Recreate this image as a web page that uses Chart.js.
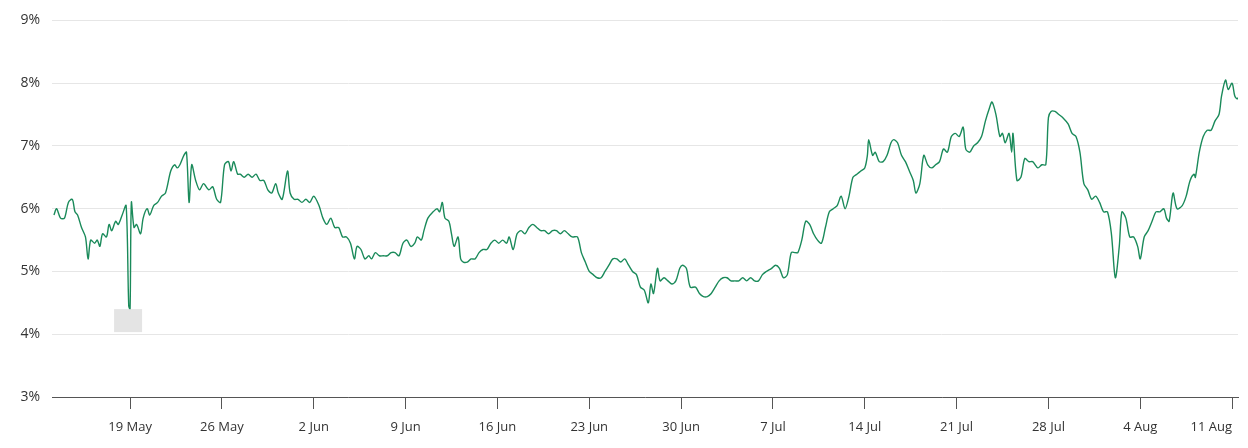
<!DOCTYPE html>
<html><head><meta charset="utf-8">
<script src="https://cdn.jsdelivr.net/npm/chart.js@4"></script>
<style>html,body{margin:0;padding:0;background:#fff}#w{width:1248px;height:448px}</style>
</head><body><div id="w"><canvas id="c"></canvas></div>
<script>
// days since 19 May
const days = [-5.8,-5.6,-5.3,-5.0,-4.7,-4.4,-4.2,-4.0,-3.7,-3.4,-3.2,-3.0,-2.7,-2.5,-2.3,-2.1,-1.8,-1.6,-1.4,-1.1,-0.9,-0.6,-0.3,-0.1,0,0.1,0.3,0.5,0.8,1.0,1.3,1.5,1.8,2.1,2.4,2.7,3.1,3.4,3.6,3.8,4.1,4.3,4.5,4.7,5.0,5.3,5.6,6.0,6.3,6.6,6.9,7.2,7.5,7.7,7.9,8.2,8.4,8.7,9.0,9.3,9.6,9.9,10.2,10.5,10.8,11.1,11.3,11.6,12.0,12.2,12.5,12.8,13.1,13.4,13.7,14.0,14.4,14.7,15.0,15.3,15.6,15.9,16.2,16.5,16.8,17.1,17.3,17.6,17.9,18.2,18.4,18.7,19.0,19.3,19.6,19.9,20.2,20.5,20.8,21.1,21.4,21.7,21.9,22.2,22.4,22.7,23.1,23.4,23.6,23.8,24.0,24.3,24.5,24.7,25.0,25.2,25.4,25.7,26.0,26.3,26.6,26.9,27.2,27.5,27.8,28.1,28.4,28.7,28.9,29.2,29.5,29.8,30.1,30.4,30.7,31.0,31.3,31.6,31.9,32.2,32.5,32.8,33.1,33.4,33.7,34.1,34.4,34.7,35.0,35.3,35.6,35.9,36.2,36.5,36.8,37.1,37.4,37.7,38.0,38.3,38.6,38.9,39.2,39.5,39.7,39.9,40.2,40.4,40.7,41.0,41.3,41.6,41.9,42.1,42.4,42.7,43.1,43.4,43.7,44.0,44.3,44.6,44.9,45.2,45.5,45.8,46.1,46.4,46.7,47.0,47.3,47.6,47.9,48.2,48.5,48.9,49.2,49.5,49.8,50.1,50.4,50.7,50.9,51.2,51.5,51.8,52.1,52.4,52.7,53.0,53.3,53.6,53.9,54.2,54.5,54.8,55.1,55.4,55.7,56.0,56.2,56.3,56.6,56.8,57.1,57.4,57.7,58.0,58.2,58.5,58.8,59.1,59.4,59.7,59.9,60.2,60.5,60.8,61.1,61.4,61.7,62.0,62.3,62.6,62.9,63.2,63.5,63.7,64.0,64.3,64.6,64.9,65.2,65.5,65.7,66.0,66.3,66.5,66.7,67.0,67.2,67.3,67.6,67.9,68.2,68.5,68.8,69.2,69.5,69.8,70.0,70.2,70.5,70.8,71.1,71.5,71.8,72.1,72.4,72.7,73.0,73.3,73.6,73.9,74.2,74.5,74.8,75.1,75.4,75.6,75.9,76.2,76.5,76.8,77.0,77.3,77.6,77.9,78.2,78.5,78.8,79.0,79.2,79.5,79.8,80.2,80.5,80.8,81.1,81.2,81.5,81.8,82.1,82.4,82.7,83.0,83.2,83.5,83.7,84.0,84.2,84.4,84.7,84.8];
const rates = [5.9,6.0,5.85,5.85,6.1,6.15,5.95,5.9,5.7,5.55,5.2,5.5,5.45,5.5,5.4,5.6,5.55,5.75,5.65,5.8,5.75,5.9,6.05,4.45,4.4,6.1,5.7,5.75,5.6,5.85,6.0,5.9,6.05,6.1,6.2,6.25,6.6,6.7,6.65,6.7,6.85,6.9,6.1,6.7,6.45,6.3,6.4,6.3,6.35,6.15,6.1,6.7,6.75,6.6,6.75,6.55,6.55,6.5,6.55,6.5,6.55,6.45,6.45,6.3,6.25,6.4,6.25,6.15,6.6,6.25,6.15,6.15,6.1,6.15,6.1,6.2,6.05,5.85,5.75,5.85,5.7,5.7,5.55,5.55,5.45,5.2,5.4,5.35,5.2,5.25,5.2,5.3,5.25,5.25,5.25,5.3,5.3,5.25,5.45,5.5,5.4,5.45,5.55,5.5,5.65,5.85,5.95,6.0,5.95,6.1,5.85,5.8,5.6,5.4,5.55,5.2,5.15,5.15,5.2,5.2,5.3,5.35,5.35,5.45,5.5,5.45,5.5,5.45,5.55,5.35,5.6,5.65,5.6,5.7,5.75,5.7,5.65,5.65,5.6,5.65,5.65,5.6,5.65,5.6,5.55,5.55,5.3,5.15,5.0,4.95,4.9,4.9,5.0,5.1,5.2,5.2,5.15,5.2,5.1,5.0,4.95,4.75,4.7,4.5,4.8,4.65,5.05,4.85,4.9,4.85,4.8,4.85,5.05,5.1,5.05,4.75,4.75,4.65,4.6,4.6,4.65,4.75,4.85,4.9,4.9,4.85,4.85,4.85,4.9,4.85,4.9,4.85,4.85,4.95,5.0,5.05,5.1,5.05,4.9,4.95,5.3,5.3,5.3,5.5,5.8,5.75,5.6,5.5,5.45,5.7,5.95,6.0,6.05,6.2,6.0,6.2,6.5,6.55,6.6,6.65,6.85,7.1,6.85,6.9,6.75,6.75,6.85,7.05,7.1,7.05,6.85,6.75,6.6,6.45,6.25,6.4,6.85,6.7,6.65,6.7,6.75,6.95,6.9,7.15,7.2,7.15,7.3,6.95,6.9,7.0,7.05,7.15,7.4,7.6,7.7,7.5,7.15,7.2,7.05,7.2,6.9,7.2,6.45,6.5,6.8,6.75,6.75,6.65,6.7,6.7,7.45,7.55,7.55,7.5,7.45,7.35,7.2,7.15,6.9,6.4,6.3,6.15,6.2,6.1,5.95,5.95,5.6,4.9,5.4,5.95,5.85,5.55,5.55,5.4,5.2,5.55,5.65,5.8,5.95,5.95,6.0,5.85,5.8,6.25,6.0,6.05,6.2,6.45,6.55,6.5,6.9,7.15,7.25,7.25,7.4,7.5,7.8,8.05,7.9,8.0,7.8,7.75,7.85,7.75];
const tickDays = [0,7,14,21,28,35,42,49,56,63,70,77,84];
const tickLabels = ['19 May','26 May','2 Jun','9 Jun','16 Jun','23 Jun','30 Jun','7 Jul','14 Jul','21 Jul','28 Jul','4 Aug','11 Aug'];
const yTicks = [3,4,5,6,7,8,9];

const FONT = '"Open Sans", "Noto Sans", sans-serif';
const xLabels = {
  id:'xLabels',
  afterDraw(ch){
    const c=ch.ctx, x=ch.scales.x, y=ch.scales.y;
    c.save();
    c.font='13px '+FONT; c.fillStyle='#333'; c.textBaseline='middle';
    tickDays.forEach((d,i)=>{
      const px=x.getPixelForValue(d);
      const w=c.measureText(tickLabels[i]).width;
      let cx=px-w/2;
      if(cx+w>ch.width-8) cx=px-w;
      c.fillText(tickLabels[i],cx,y.bottom+30);
    });
    let mi=0; rates.forEach((v,i)=>{if(v<rates[mi])mi=i;});
    const mx=x.getPixelForValue(days[mi]), my=y.getPixelForValue(rates[mi]);
    c.fillStyle='rgba(225,225,225,0.9)';
    c.fillRect(mx-16,my,28,23);
    c.restore();
  }
};
new Chart(document.getElementById('c'),{
  type:'line',
  data:{datasets:[{data:days.map((d,i)=>({x:d,y:rates[i]})),borderColor:'#1a8a5a',borderWidth:1.4,pointRadius:0,tension:0.3,fill:false}]},
  options:{
    responsive:true,maintainAspectRatio:false,animation:false,
    layout:{padding:{top:-2,right:10,left:0,bottom:0}},
    plugins:{legend:{display:false},tooltip:{enabled:false}},
    scales:{
      x:{type:'linear',min:-5.95,max:84.45,
        afterBuildTicks(s){s.ticks=tickDays.map(v=>({value:v}));},
        afterFit(s){s.height=51;},
        ticks:{display:false},
        grid:{drawOnChartArea:false,drawTicks:true,tickLength:12,color:'#555',lineWidth:1},
        border:{display:true,color:'#555',width:1}},
      y:{min:3,max:9,
        afterBuildTicks(s){s.ticks=yTicks.map(v=>({value:v}));},
        afterFit(s){s.width=52;},
        ticks:{callback:v=>v+'%',color:'#333',font:{family:FONT,size:14},padding:12},
        grid:{color:'#e6e6e6',drawTicks:false},
        border:{display:false}}
    }
  },
  plugins:[xLabels]
});
</script></body></html>
